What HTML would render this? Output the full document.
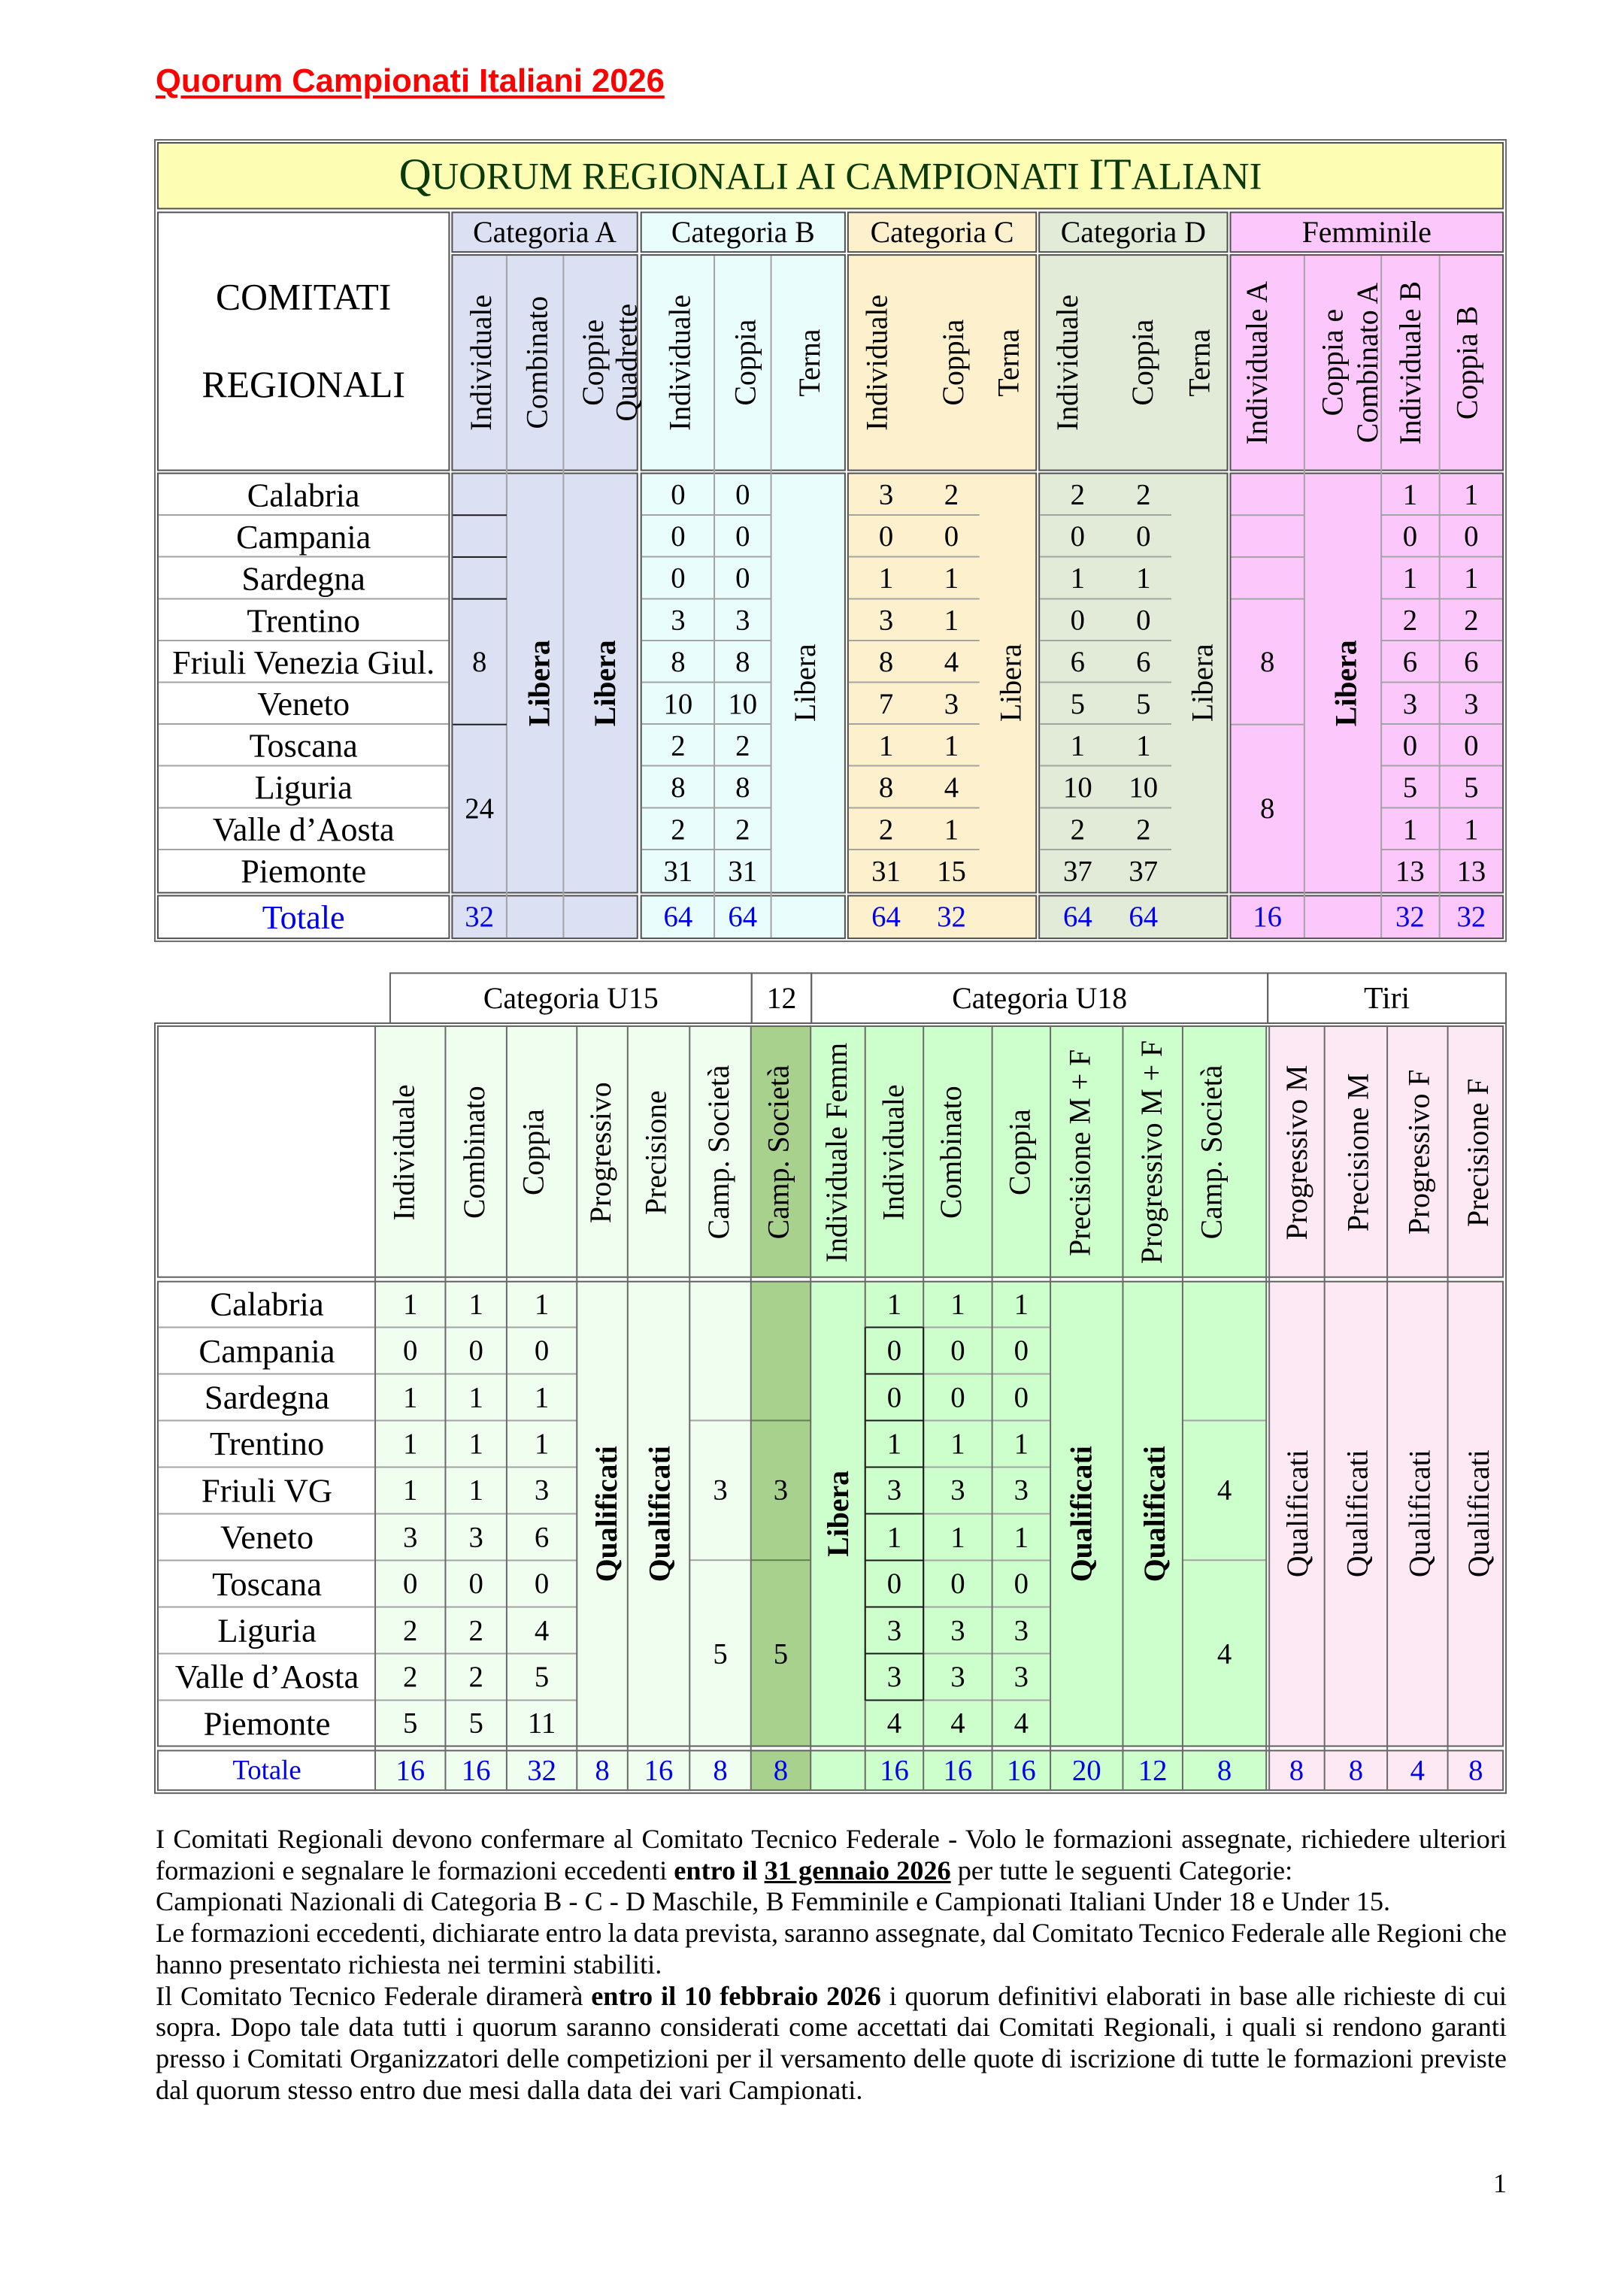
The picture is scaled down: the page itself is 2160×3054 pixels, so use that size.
<!DOCTYPE html>
<html><head><meta charset="utf-8"><title>Quorum Campionati Italiani 2026</title>
<style>
*{margin:0;padding:0;box-sizing:border-box}
html,body{width:2160px;height:3054px;background:#fff}
body{position:relative;overflow:hidden;font-family:"Liberation Serif","Times New Roman",serif;color:#000}
div{position:absolute}
.b{border:2px solid #505050}
.c{display:flex;align-items:center;justify-content:center;white-space:nowrap}
.v{display:flex;align-items:center;justify-content:center;font-size:40px}
.v span{writing-mode:vertical-rl;transform:rotate(180deg);white-space:nowrap;text-align:center}
.col{display:flex;flex-direction:column}
.col p{flex:1 1 0;display:flex;align-items:center;justify-content:center;white-space:nowrap}
.t{font-size:40px}
.n{font-size:39px}
.r{font-size:44.5px}
.r2{font-size:45px}
.bl{color:#0000f0}
.bo{font-weight:bold}
.hl{height:2px}
.vl{width:2px}
.g{background:#a3a3a3}
.k{background:#1a1a1a}
.d{background:#6a6a6a}
.rl1{background:repeating-linear-gradient(to bottom,transparent 0 53.9px,#a3a3a3 53.9px 55.9px)}
.rl2{background:repeating-linear-gradient(to bottom,transparent 0 60.4px,#a3a3a3 60.4px 62.4px)}
.rk2{background:repeating-linear-gradient(to bottom,transparent 0 60.4px,#1a1a1a 60.4px 62.4px)}
.p{left:207px;width:1797px;height:42px;font-size:36.3px;line-height:41.7px;text-align:justify;text-align-last:justify;white-space:nowrap}
.pl{text-align:left;text-align-last:left}
</style></head><body>

<!-- Title -->
<div style="left:207px;top:83px;font-family:'Liberation Sans',Arial,sans-serif;font-weight:bold;font-size:43.5px;line-height:50px;color:#ff0000;text-decoration:underline;text-underline-offset:5px;white-space:nowrap">Quorum Campionati Italiani 2026</div>

<!-- ================= TABLE 1 ================= -->
<div style="left:0;top:0;width:2160px;height:1300px;transform-origin:206px 185px;transform:scale(0.9934,0.9945)">
<div class="b" style="left:205px;top:185px;width:1811px;height:1074px;border-color:#6a6a6a"></div>
<div class="b" style="left:209px;top:189px;width:1803px;height:90px;background:#fdfdb4"></div>
<div style="left:209px;top:202px;width:1803px;text-align:center;font-size:60px;line-height:60px;color:#0a3a0a;white-space:nowrap">Q<span style="font-size:50.8px">UORUM REGIONALI AI CAMPIONATI </span>IT<span style="font-size:50.8px">ALIANI</span></div>

<div class="b" style="left:209px;top:282px;width:392px;height:347px;background:#fff"></div>
<div style="left:209px;top:371px;width:392px;text-align:center;font-size:50px;line-height:50px">COMITATI</div>
<div style="left:209px;top:488px;width:392px;text-align:center;font-size:50px;line-height:50px">REGIONALI</div>

<div class="b" style="left:603px;top:282px;width:250px;height:55px;background:#dbe0f2"></div>
<div class="b" style="left:856px;top:282px;width:275px;height:55px;background:#eafdfd"></div>
<div class="b" style="left:1133px;top:282px;width:254px;height:55px;background:#fdf0cd"></div>
<div class="b" style="left:1389px;top:282px;width:254px;height:55px;background:#e1ebd8"></div>
<div class="b" style="left:1645px;top:282px;width:367px;height:55px;background:#fcc8fc"></div>
<div class="c t" style="left:603px;top:282px;width:250px;height:55px">Categoria A</div>
<div class="c t" style="left:856px;top:282px;width:275px;height:55px">Categoria B</div>
<div class="c t" style="left:1133px;top:282px;width:254px;height:55px">Categoria C</div>
<div class="c t" style="left:1389px;top:282px;width:254px;height:55px">Categoria D</div>
<div class="c t" style="left:1645px;top:282px;width:367px;height:55px">Femminile</div>

<div class="b" style="left:603px;top:339px;width:250px;height:290px;background:#dbe0f2"></div>
<div class="b" style="left:856px;top:339px;width:275px;height:290px;background:#eafdfd"></div>
<div class="b" style="left:1133px;top:339px;width:254px;height:290px;background:#fdf0cd"></div>
<div class="b" style="left:1389px;top:339px;width:254px;height:290px;background:#e1ebd8"></div>
<div class="b" style="left:1645px;top:339px;width:367px;height:290px;background:#fcc8fc"></div>

<div class="b" style="left:209px;top:631px;width:392px;height:563px;background:#fff"></div>
<div class="b" style="left:603px;top:631px;width:250px;height:563px;background:#dbe0f2"></div>
<div class="b" style="left:856px;top:631px;width:275px;height:563px;background:#eafdfd"></div>
<div class="b" style="left:1133px;top:631px;width:254px;height:563px;background:#fdf0cd"></div>
<div class="b" style="left:1389px;top:631px;width:254px;height:563px;background:#e1ebd8"></div>
<div class="b" style="left:1645px;top:631px;width:367px;height:563px;background:#fcc8fc"></div>

<div class="b" style="left:209px;top:1196px;width:392px;height:59px;background:#fff"></div>
<div class="b" style="left:603px;top:1196px;width:250px;height:59px;background:#dbe0f2"></div>
<div class="b" style="left:856px;top:1196px;width:275px;height:59px;background:#eafdfd"></div>
<div class="b" style="left:1133px;top:1196px;width:254px;height:59px;background:#fdf0cd"></div>
<div class="b" style="left:1389px;top:1196px;width:254px;height:59px;background:#e1ebd8"></div>
<div class="b" style="left:1645px;top:1196px;width:367px;height:59px;background:#fcc8fc"></div>

<div class="vl g" style="left:676px;top:341px;height:912px"></div>
<div class="vl g" style="left:752px;top:341px;height:912px"></div>
<div class="vl g" style="left:954px;top:341px;height:912px"></div>
<div class="vl g" style="left:1030px;top:341px;height:912px"></div>
<div class="vl g" style="left:1744px;top:341px;height:912px"></div>
<div class="vl g" style="left:1847px;top:341px;height:912px"></div>
<div class="vl g" style="left:1925px;top:341px;height:912px"></div>

<div class="v" style="left:602px;top:339px;width:80px;height:290px"><span>Individuale</span></div>
<div class="v" style="left:677px;top:339px;width:80px;height:290px"><span>Combinato</span></div>
<div class="v" style="left:765px;top:339px;width:100px;height:290px"><span style="line-height:45px">Coppie<br>Quadrette</span></div>
<div class="v" style="left:868px;top:339px;width:80px;height:290px"><span>Individuale</span></div>
<div class="v" style="left:956px;top:339px;width:80px;height:290px"><span>Coppia</span></div>
<div class="v" style="left:1042px;top:339px;width:80px;height:290px"><span>Terna</span></div>
<div class="v" style="left:1132px;top:339px;width:80px;height:290px"><span>Individuale</span></div>
<div class="v" style="left:1234px;top:339px;width:80px;height:290px"><span>Coppia</span></div>
<div class="v" style="left:1308px;top:339px;width:80px;height:290px"><span>Terna</span></div>
<div class="v" style="left:1387px;top:339px;width:80px;height:290px"><span>Individuale</span></div>
<div class="v" style="left:1488px;top:339px;width:80px;height:290px"><span>Coppia</span></div>
<div class="v" style="left:1564px;top:339px;width:80px;height:290px"><span>Terna</span></div>
<div class="v" style="left:1641px;top:339px;width:80px;height:290px"><span>Individuale A</span></div>
<div class="v" style="left:1756px;top:339px;width:100px;height:290px"><span style="line-height:47px">Coppia e<br>Combinato A</span></div>
<div class="v" style="left:1846px;top:339px;width:80px;height:290px"><span>Individuale B</span></div>
<div class="v" style="left:1922px;top:339px;width:80px;height:290px"><span>Coppia B</span></div>

<div class="rl1" style="left:211px;top:633px;width:388px;height:556px"></div>
<div class="rl1" style="left:858px;top:633px;width:172px;height:556px"></div>
<div class="rl1" style="left:1135px;top:633px;width:175px;height:556px"></div>
<div class="rl1" style="left:1391px;top:633px;width:176px;height:556px"></div>
<div class="rl1" style="left:1847px;top:633px;width:163px;height:556px"></div>
<div class="hl k" style="left:605px;top:687px;width:72px"></div>
<div class="hl k" style="left:605px;top:743px;width:72px"></div>
<div class="hl k" style="left:605px;top:799px;width:72px"></div>
<div class="hl k" style="left:605px;top:967px;width:72px"></div>
<div class="hl g" style="left:1647px;top:687px;width:98px"></div>
<div class="hl g" style="left:1647px;top:743px;width:98px"></div>
<div class="hl g" style="left:1647px;top:799px;width:98px"></div>
<div class="hl g" style="left:1647px;top:967px;width:98px"></div>

<div class="col r" style="left:211px;top:633px;width:388px;height:559px"><p>Calabria</p><p>Campania</p><p>Sardegna</p><p>Trentino</p><p>Friuli Venezia Giul.</p><p>Veneto</p><p>Toscana</p><p>Liguria</p><p>Valle d’Aosta</p><p>Piemonte</p></div>
<div class="col n" style="left:858px;top:633px;width:97px;height:559px"><p>0</p><p>0</p><p>0</p><p>3</p><p>8</p><p>10</p><p>2</p><p>8</p><p>2</p><p>31</p></div>
<div class="col n" style="left:955px;top:633px;width:76px;height:559px"><p>0</p><p>0</p><p>0</p><p>3</p><p>8</p><p>10</p><p>2</p><p>8</p><p>2</p><p>31</p></div>
<div class="col n" style="left:1135px;top:633px;width:100px;height:559px"><p>3</p><p>0</p><p>1</p><p>3</p><p>8</p><p>7</p><p>1</p><p>8</p><p>2</p><p>31</p></div>
<div class="col n" style="left:1235px;top:633px;width:75px;height:559px"><p>2</p><p>0</p><p>1</p><p>1</p><p>4</p><p>3</p><p>1</p><p>4</p><p>1</p><p>15</p></div>
<div class="col n" style="left:1391px;top:633px;width:101px;height:559px"><p>2</p><p>0</p><p>1</p><p>0</p><p>6</p><p>5</p><p>1</p><p>10</p><p>2</p><p>37</p></div>
<div class="col n" style="left:1492px;top:633px;width:75px;height:559px"><p>2</p><p>0</p><p>1</p><p>0</p><p>6</p><p>5</p><p>1</p><p>10</p><p>2</p><p>37</p></div>
<div class="col n" style="left:1847px;top:633px;width:79px;height:559px"><p>1</p><p>0</p><p>1</p><p>2</p><p>6</p><p>3</p><p>0</p><p>5</p><p>1</p><p>13</p></div>
<div class="col n" style="left:1926px;top:633px;width:85px;height:559px"><p>1</p><p>0</p><p>1</p><p>2</p><p>6</p><p>3</p><p>0</p><p>5</p><p>1</p><p>13</p></div>

<div class="c n" style="left:605px;top:801px;width:71px;height:167px">8</div>
<div class="c n" style="left:605px;top:968px;width:71px;height:224px">24</div>
<div class="c n" style="left:1647px;top:801px;width:97px;height:167px">8</div>
<div class="c n" style="left:1647px;top:968px;width:97px;height:224px">8</div>
<div class="v bo" style="left:680px;top:633px;width:80px;height:559px"><span>Libera</span></div>
<div class="v bo" style="left:768px;top:633px;width:80px;height:559px"><span>Libera</span></div>
<div class="v" style="left:1036px;top:633px;width:80px;height:559px"><span>Libera</span></div>
<div class="v" style="left:1311px;top:633px;width:80px;height:559px"><span>Libera</span></div>
<div class="v" style="left:1568px;top:633px;width:80px;height:559px"><span>Libera</span></div>
<div class="v bo" style="left:1760px;top:633px;width:80px;height:559px"><span>Libera</span></div>

<div class="c r bl" style="left:211px;top:1198px;width:388px;height:55px">Totale</div>
<div class="c n bl" style="left:605px;top:1198px;width:71px;height:55px">32</div>
<div class="c n bl" style="left:858px;top:1198px;width:97px;height:55px">64</div>
<div class="c n bl" style="left:955px;top:1198px;width:76px;height:55px">64</div>
<div class="c n bl" style="left:1135px;top:1198px;width:100px;height:55px">64</div>
<div class="c n bl" style="left:1235px;top:1198px;width:75px;height:55px">32</div>
<div class="c n bl" style="left:1391px;top:1198px;width:101px;height:55px">64</div>
<div class="c n bl" style="left:1492px;top:1198px;width:75px;height:55px">64</div>
<div class="c n bl" style="left:1647px;top:1198px;width:97px;height:55px">16</div>
<div class="c n bl" style="left:1847px;top:1198px;width:79px;height:55px">32</div>
<div class="c n bl" style="left:1926px;top:1198px;width:85px;height:55px">32</div>
</div>

<!-- ================= TABLE 2 ================= -->
<div style="left:0;top:0;width:2160px;height:2420px;transform-origin:206px 0px;transform:scale(0.9934,0.9934)">
<div class="b" style="left:520px;top:1302px;width:486px;height:69px;border-color:#606060"></div>
<div class="b" style="left:1004px;top:1302px;width:82px;height:69px;border-color:#606060"></div>
<div class="b" style="left:1084px;top:1302px;width:613px;height:69px;border-color:#606060"></div>
<div class="b" style="left:1695px;top:1302px;width:321px;height:69px;border-color:#606060"></div>
<div class="c t" style="left:520px;top:1302px;width:486px;height:69px">Categoria U15</div>
<div class="c t" style="left:1004px;top:1302px;width:82px;height:69px">12</div>
<div class="c t" style="left:1084px;top:1302px;width:613px;height:69px">Categoria U18</div>
<div class="c t" style="left:1695px;top:1302px;width:321px;height:69px;font-size:42px">Tiri</div>

<div class="b" style="left:205px;top:1369px;width:1811px;height:1033px;border-color:#606060"></div>

<div style="left:501px;top:1373px;width:503px;height:338px;background:#effeef"></div>
<div style="left:1004px;top:1373px;width:80px;height:338px;background:#a9d18e"></div>
<div style="left:1084px;top:1373px;width:611px;height:338px;background:#ccffcc"></div>
<div style="left:1697px;top:1373px;width:315px;height:338px;background:#fde9f4"></div>
<div style="left:501px;top:1715px;width:503px;height:624px;background:#effeef"></div>
<div style="left:1004px;top:1715px;width:80px;height:624px;background:#a9d18e"></div>
<div style="left:1084px;top:1715px;width:611px;height:624px;background:#ccffcc"></div>
<div style="left:1697px;top:1715px;width:315px;height:624px;background:#fde9f4"></div>
<div style="left:501px;top:2343px;width:503px;height:55px;background:#effeef"></div>
<div style="left:1004px;top:2343px;width:80px;height:55px;background:#a9d18e"></div>
<div style="left:1084px;top:2343px;width:611px;height:55px;background:#ccffcc"></div>
<div style="left:1697px;top:2343px;width:315px;height:55px;background:#fde9f4"></div>

<div class="b" style="left:209px;top:1373px;width:1803px;height:338px;border-color:#606060"></div>
<div class="b" style="left:209px;top:1715px;width:1803px;height:624px;border-color:#606060"></div>
<div class="b" style="left:209px;top:2343px;width:1803px;height:55px;border-color:#606060"></div>

<div class="rl2" style="left:211px;top:1716px;width:560px;height:562px"></div>
<div class="rl2" style="left:1236px;top:1716px;width:169px;height:562px"></div>
<div class="rk2" style="left:1157px;top:1716px;width:78px;height:562px"></div>
<div class="hl g" style="left:922px;top:1901px;width:82px"></div>
<div class="hl g" style="left:922px;top:2088px;width:82px"></div>
<div class="hl" style="left:1004px;top:1901px;width:80px;background:#5f7f4f"></div>
<div class="hl" style="left:1004px;top:2088px;width:80px;background:#5f7f4f"></div>
<div class="hl g" style="left:1582px;top:1901px;width:112px"></div>
<div class="hl g" style="left:1582px;top:2088px;width:112px"></div>

<div class="vl d" style="left:500px;top:1373px;height:1025px"></div>
<div class="vl d" style="left:594px;top:1373px;height:1025px"></div>
<div class="vl d" style="left:676px;top:1373px;height:1025px"></div>
<div class="vl d" style="left:770px;top:1373px;height:1025px"></div>
<div class="vl d" style="left:838px;top:1373px;height:1025px"></div>
<div class="vl d" style="left:921px;top:1373px;height:1025px"></div>
<div class="vl d" style="left:1003px;top:1373px;height:1025px"></div>
<div class="vl d" style="left:1083px;top:1373px;height:1025px"></div>
<div class="vl d" style="left:1156px;top:1373px;height:1025px"></div>
<div class="vl d" style="left:1234px;top:1373px;height:1025px"></div>
<div class="vl d" style="left:1326px;top:1373px;height:1025px"></div>
<div class="vl d" style="left:1404px;top:1373px;height:1025px"></div>
<div class="vl d" style="left:1501px;top:1373px;height:1025px"></div>
<div class="vl d" style="left:1581px;top:1373px;height:1025px"></div>
<div class="vl d" style="left:1693px;top:1373px;height:1025px"></div>
<div class="vl d" style="left:1697px;top:1373px;height:1025px"></div>
<div class="vl d" style="left:1771px;top:1373px;height:1025px"></div>
<div class="vl d" style="left:1855px;top:1373px;height:1025px"></div>
<div class="vl d" style="left:1936px;top:1373px;height:1025px"></div>
<div class="vl k" style="left:1156px;top:1777px;height:500px"></div>
<div class="vl k" style="left:1234px;top:1777px;height:500px"></div>

<div class="v" style="left:499px;top:1375px;width:80px;height:336px"><span>Individuale</span></div>
<div class="v" style="left:593px;top:1375px;width:80px;height:336px"><span>Combinato</span></div>
<div class="v" style="left:672px;top:1375px;width:80px;height:336px"><span>Coppia</span></div>
<div class="v" style="left:762px;top:1375px;width:80px;height:336px"><span>Progressivo</span></div>
<div class="v" style="left:836px;top:1375px;width:80px;height:336px"><span>Precisione</span></div>
<div class="v" style="left:920px;top:1375px;width:80px;height:336px"><span>Camp. Società</span></div>
<div class="v" style="left:1000px;top:1375px;width:80px;height:336px"><span>Camp. Società</span></div>
<div class="v" style="left:1078px;top:1375px;width:80px;height:336px"><span>Individuale Femm</span></div>
<div class="v" style="left:1154px;top:1375px;width:80px;height:336px"><span>Individuale</span></div>
<div class="v" style="left:1231px;top:1375px;width:80px;height:336px"><span>Combinato</span></div>
<div class="v" style="left:1323px;top:1375px;width:80px;height:336px"><span>Coppia</span></div>
<div class="v" style="left:1404px;top:1375px;width:80px;height:336px"><span>Precisione M + F</span></div>
<div class="v" style="left:1500px;top:1375px;width:80px;height:336px"><span>Progressivo M + F</span></div>
<div class="v" style="left:1580px;top:1375px;width:80px;height:336px"><span>Camp. Società</span></div>
<div class="v" style="left:1694px;top:1375px;width:80px;height:336px"><span>Progressivo M</span></div>
<div class="v" style="left:1776px;top:1375px;width:80px;height:336px"><span>Precisione M</span></div>
<div class="v" style="left:1858px;top:1375px;width:80px;height:336px"><span>Progressivo F</span></div>
<div class="v" style="left:1937px;top:1375px;width:80px;height:336px"><span>Precisione F</span></div>

<div class="col r2" style="left:211px;top:1715px;width:290px;height:624px"><p>Calabria</p><p>Campania</p><p>Sardegna</p><p>Trentino</p><p>Friuli VG</p><p>Veneto</p><p>Toscana</p><p>Liguria</p><p>Valle d’Aosta</p><p>Piemonte</p></div>
<div class="col n" style="left:502px;top:1715px;width:92px;height:624px"><p>1</p><p>0</p><p>1</p><p>1</p><p>1</p><p>3</p><p>0</p><p>2</p><p>2</p><p>5</p></div>
<div class="col n" style="left:596px;top:1715px;width:80px;height:624px"><p>1</p><p>0</p><p>1</p><p>1</p><p>1</p><p>3</p><p>0</p><p>2</p><p>2</p><p>5</p></div>
<div class="col n" style="left:678px;top:1715px;width:92px;height:624px"><p>1</p><p>0</p><p>1</p><p>1</p><p>3</p><p>6</p><p>0</p><p>4</p><p>5</p><p>11</p></div>
<div class="col n" style="left:1158px;top:1715px;width:76px;height:624px"><p>1</p><p>0</p><p>0</p><p>1</p><p>3</p><p>1</p><p>0</p><p>3</p><p>3</p><p>4</p></div>
<div class="col n" style="left:1236px;top:1715px;width:90px;height:624px"><p>1</p><p>0</p><p>0</p><p>1</p><p>3</p><p>1</p><p>0</p><p>3</p><p>3</p><p>4</p></div>
<div class="col n" style="left:1328px;top:1715px;width:76px;height:624px"><p>1</p><p>0</p><p>0</p><p>1</p><p>3</p><p>1</p><p>0</p><p>3</p><p>3</p><p>4</p></div>

<div class="c n" style="left:922px;top:1902px;width:82px;height:187px">3</div>
<div class="c n" style="left:922px;top:2089px;width:82px;height:250px">5</div>
<div class="c n" style="left:1004px;top:1902px;width:80px;height:187px">3</div>
<div class="c n" style="left:1004px;top:2089px;width:80px;height:250px">5</div>
<div class="c n" style="left:1582px;top:1902px;width:112px;height:187px">4</div>
<div class="c n" style="left:1582px;top:2089px;width:112px;height:250px">4</div>
<div class="v bo" style="left:770px;top:1717px;width:80px;height:620px"><span>Qualificati</span></div>
<div class="v bo" style="left:841px;top:1717px;width:80px;height:620px"><span>Qualificati</span></div>
<div class="v bo" style="left:1080px;top:1717px;width:80px;height:620px"><span>Libera</span></div>
<div class="v bo" style="left:1406px;top:1717px;width:80px;height:620px"><span>Qualificati</span></div>
<div class="v bo" style="left:1504px;top:1717px;width:80px;height:620px"><span>Qualificati</span></div>
<div class="v" style="left:1695px;top:1717px;width:80px;height:620px"><span>Qualificati</span></div>
<div class="v" style="left:1775px;top:1717px;width:80px;height:620px"><span>Qualificati</span></div>
<div class="v" style="left:1859px;top:1717px;width:80px;height:620px"><span>Qualificati</span></div>
<div class="v" style="left:1938px;top:1717px;width:80px;height:620px"><span>Qualificati</span></div>

<div class="c bl" style="left:211px;top:2343px;width:290px;height:55px;font-size:37px">Totale</div>
<div class="c n bl" style="left:501px;top:2343px;width:94px;height:55px">16</div>
<div class="c n bl" style="left:595px;top:2343px;width:82px;height:55px">16</div>
<div class="c n bl" style="left:677px;top:2343px;width:94px;height:55px">32</div>
<div class="c n bl" style="left:771px;top:2343px;width:68px;height:55px">8</div>
<div class="c n bl" style="left:839px;top:2343px;width:83px;height:55px">16</div>
<div class="c n bl" style="left:922px;top:2343px;width:82px;height:55px">8</div>
<div class="c n bl" style="left:1004px;top:2343px;width:80px;height:55px">8</div>
<div class="c n bl" style="left:1157px;top:2343px;width:78px;height:55px">16</div>
<div class="c n bl" style="left:1235px;top:2343px;width:92px;height:55px">16</div>
<div class="c n bl" style="left:1327px;top:2343px;width:78px;height:55px">16</div>
<div class="c n bl" style="left:1405px;top:2343px;width:97px;height:55px">20</div>
<div class="c n bl" style="left:1502px;top:2343px;width:80px;height:55px">12</div>
<div class="c n bl" style="left:1582px;top:2343px;width:112px;height:55px">8</div>
<div class="c n bl" style="left:1697px;top:2343px;width:75px;height:55px">8</div>
<div class="c n bl" style="left:1772px;top:2343px;width:84px;height:55px">8</div>
<div class="c n bl" style="left:1856px;top:2343px;width:81px;height:55px">4</div>
<div class="c n bl" style="left:1937px;top:2343px;width:75px;height:55px">8</div>
</div>

<!-- ================= PARAGRAPH ================= -->
<div class="p" style="top:2426px">I Comitati Regionali devono confermare al Comitato Tecnico Federale - Volo le formazioni assegnate, richiedere ulteriori</div>
<div class="p pl" style="top:2467.7px">formazioni e segnalare le formazioni eccedenti <b>entro il <u>31 gennaio 2026</u></b> per tutte le seguenti Categorie:</div>
<div class="p pl" style="top:2509.4px">Campionati Nazionali di Categoria B - C - D Maschile, B Femminile e Campionati Italiani Under 18 e Under 15.</div>
<div class="p" style="top:2551.1px;word-spacing:-1.9px">Le formazioni eccedenti, dichiarate entro la data prevista, saranno assegnate, dal Comitato Tecnico Federale alle Regioni che</div>
<div class="p pl" style="top:2592.8px">hanno presentato richiesta nei termini stabiliti.</div>
<div class="p" style="top:2634.5px">Il Comitato Tecnico Federale diramerà <b>entro il 10 febbraio 2026</b> i quorum definitivi elaborati in base alle richieste di cui</div>
<div class="p" style="top:2676.2px">sopra. Dopo tale data tutti i quorum saranno considerati come accettati dai Comitati Regionali, i quali si rendono garanti</div>
<div class="p" style="top:2717.9px">presso i Comitati Organizzatori delle competizioni per il versamento delle quote di iscrizione di tutte le formazioni previste</div>
<div class="p pl" style="top:2759.6px">dal quorum stesso entro due mesi dalla data dei vari Campionati.</div>

<div style="left:1940px;top:2883px;width:64px;text-align:right;font-size:36px;line-height:42px">1</div>

</body></html>
